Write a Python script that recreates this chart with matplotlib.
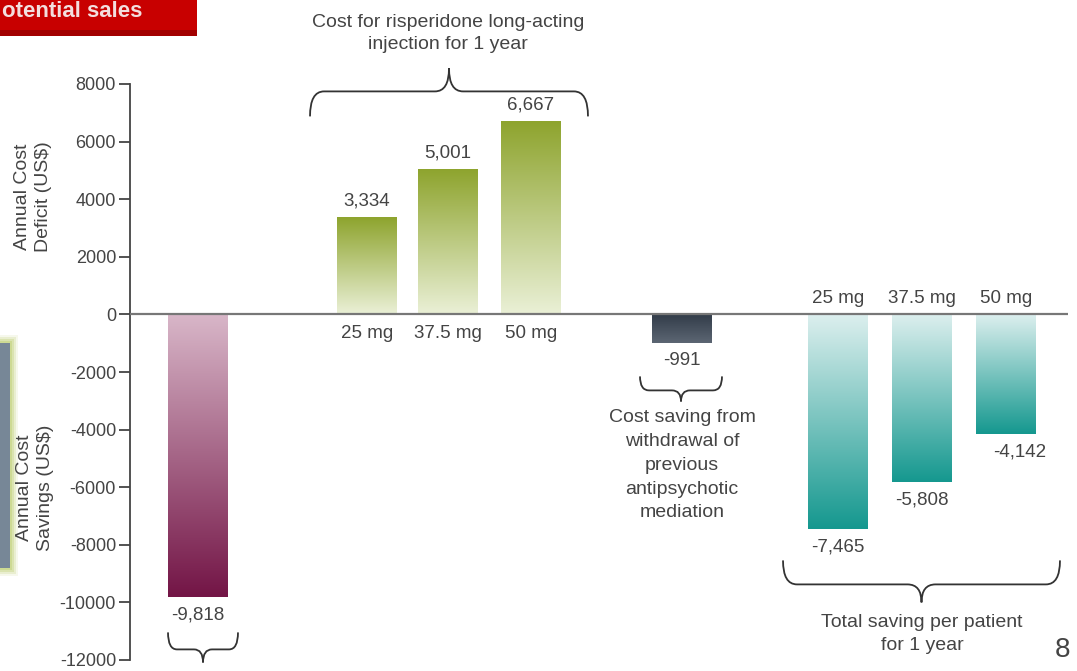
import numpy as np
import matplotlib
matplotlib.use("Agg")
import matplotlib.pyplot as plt
from matplotlib.path import Path
from matplotlib.patches import PathPatch, Rectangle
import matplotlib.colors as mcolors

plt.rcParams['font.family'] = ['Liberation Sans', 'DejaVu Sans']

# data
values = [-9818, 3334, 5001, 6667, -991, -7465, -5808, -4142]
dose_labels = ['25 mg', '37.5 mg', '50 mg']
yticks = list(range(-12000, 8001, 2000))
top_note = 'Cost for risperidone long-acting\ninjection for 1 year'
mid_note = 'Cost saving from\nwithdrawal of\nprevious\nantipsychotic\nmediation'
right_note = 'Total saving per patient\nfor 1 year'
banner = 'otential sales'  # left part of the banner is cut off on the slide

# layout (x in pixels from the axis line)
xpos = [68, 237, 318, 401, 552, 708, 792, 876]
width = 60
grads = [('#d8b6c8', '#731546')] + [('#8ea42e', '#eaf0d6')] * 3 + \
        [('#323c49', '#5c6673')] + [('#dcefee', '#15988f')] * 3
txt = '#444444'
fs = 13.5

fig = plt.figure(figsize=(10.77, 6.71), dpi=100)
ax = fig.add_axes([130 / 1077, 11 / 671, 938 / 1077, 576 / 671])

def px2y(py):
    return (314 - py) / 28.8 * 1000

for x, v, (c_top, c_bot) in zip(xpos, values, grads):
    a = np.array(mcolors.to_rgb(c_top))
    b = np.array(mcolors.to_rgb(c_bot))
    t = np.linspace(0, 1, 128)[:, None]
    img = (a * (1 - t) + b * t)[:, None, :]
    ax.imshow(img, extent=[x - width / 2, x + width / 2, min(v, 0), max(v, 0)],
              origin='upper', aspect='auto', interpolation='bilinear', zorder=2)

ax.set_xlim(0, 938)
ax.set_ylim(-12000, 8000)
ax.axhline(0, color='#777777', lw=1.6, zorder=3)

for s in ['top', 'right', 'bottom']:
    ax.spines[s].set_visible(False)
ax.spines['left'].set_color('#444444')
ax.spines['left'].set_linewidth(1.3)
ax.set_xticks([])
ax.set_yticks(yticks)
ax.set_yticklabels([str(t) for t in yticks])
ax.tick_params(axis='y', length=8, width=1.3, color='#444444', labelcolor=txt,
               labelsize=13, pad=2)

fmt = lambda v: f'{v:,}'
for x, v in zip(xpos, values):
    off = 17 if v > 0 else -18
    dx = 14 if v == values[-1] else 0
    ax.annotate(fmt(v), (x, v), xytext=(dx, off), textcoords='offset pixels',
                ha='center', va='center', fontsize=fs, color=txt)

for x, lab in zip(xpos[1:4], dose_labels):
    ax.annotate(lab, (x, 0), xytext=(0, -19), textcoords='offset pixels',
                ha='center', va='center', fontsize=fs, color=txt)
for x, lab in zip(xpos[5:8], dose_labels):
    ax.annotate(lab, (x, 0), xytext=(0, 16), textcoords='offset pixels',
                ha='center', va='center', fontsize=fs, color=txt)

def brace(x0, x1, y_end, y_base, y_tip, r=12):
    xm = (x0 + x1) / 2
    verts = [(x0, y_end), (x0, y_base), (x0 + r, y_base),
             (xm - r, y_base), (xm, y_base), (xm, y_tip),
             (xm, y_base), (xm + r, y_base),
             (x1 - r, y_base), (x1, y_base), (x1, y_end)]
    codes = [Path.MOVETO, Path.CURVE3, Path.CURVE3,
             Path.LINETO, Path.CURVE3, Path.CURVE3,
             Path.CURVE3, Path.CURVE3,
             Path.LINETO, Path.CURVE3, Path.CURVE3]
    ax.add_patch(PathPatch(Path(verts, codes), fill=False, lw=1.3,
                           edgecolor='#333333', clip_on=False, zorder=4))

brace(180, 458, px2y(116), px2y(91), px2y(68), r=14)
brace(510, 592, px2y(376), px2y(390), px2y(401), r=9)
brace(653, 930, px2y(560), px2y(584), px2y(602), r=14)
brace(38, 108, px2y(632), px2y(649), px2y(662), r=9)

ax.text(318, px2y(33), top_note, ha='center', va='center', fontsize=14,
        color=txt, linespacing=1.33, clip_on=False)
ax.text(552, px2y(465), mid_note, ha='center', va='center', fontsize=14,
        color=txt, linespacing=1.52)
ax.text(792, px2y(634), right_note, ha='center', va='center', fontsize=14,
        color=txt, linespacing=1.45)

# axis titles
fig.text(33 / 1077, 1 - 197 / 671, 'Annual Cost\nDeficit (US$)', rotation=90,
         ha='center', va='center', fontsize=14, color=txt, linespacing=1.27)
fig.text(35 / 1077, 1 - 488 / 671, 'Annual Cost\nSavings (US$)', rotation=90,
         ha='center', va='center', fontsize=14, color=txt, linespacing=1.27,
         zorder=5)

# left side box with glow
for i, al in enumerate([0.15, 0.25, 0.4, 0.6]):
    g = 8 - 2 * i
    fig.patches.append(Rectangle((0, (671 - 568 - g) / 671), (10 + g) / 1077,
                                 (225 + 2 * g) / 671, transform=fig.transFigure,
                                 facecolor='#c5d480', alpha=al, lw=0))
fig.patches.append(Rectangle((0, (671 - 568) / 671), 10 / 1077, 225 / 671,
                             transform=fig.transFigure, facecolor='#778797', lw=0))

# red banner top-left
fig.patches.append(Rectangle((0, 1 - 36 / 671), 197 / 1077, 36 / 671,
                             transform=fig.transFigure, facecolor='#c80000', lw=0))
fig.patches.append(Rectangle((0, 1 - 36 / 671), 197 / 1077, 6 / 671,
                             transform=fig.transFigure, facecolor='#8a0000', lw=0,
                             alpha=0.6))
fig.text(2 / 1077, 1 - 1 / 671, banner, ha='left', va='top',
         fontsize=16, fontweight='bold', color='#f3dede')

fig.text(1063 / 1077, 1 - 650 / 671, '8', ha='center', va='center',
         fontsize=20, color='#444444')

fig.savefig('out.png', dpi=100)
